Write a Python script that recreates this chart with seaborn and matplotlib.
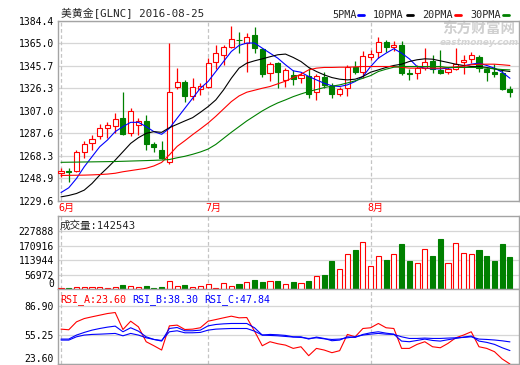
import numpy as np
import matplotlib
matplotlib.use('Agg')
import matplotlib.pyplot as plt
from matplotlib.lines import Line2D
from matplotlib.transforms import blended_transform_factory
import seaborn as sns

# daily candles, 美黄金 GLNC, June - 2016-08-25
opens = [1253.0, 1255.3, 1255.0, 1271.7, 1278.9, 1284.9, 1291.8, 1294.1, 1300.5, 1288.1,
         1294.7, 1298.2, 1278.6, 1273.1, 1262.5, 1327.2, 1331.5, 1319.7, 1325.8, 1327.8,
         1349.3, 1354.5, 1361.7, 1368.0, 1365.1, 1372.3, 1359.9, 1339.3, 1347.9, 1333.5,
         1337.8, 1334.9, 1337.2, 1322.9, 1336.4, 1328.4, 1321.7, 1326.3, 1344.2, 1340.1,
         1353.6, 1357.4, 1366.0, 1361.4, 1363.7, 1339.3, 1339.3, 1343.6, 1349.9, 1342.1,
         1340.1, 1342.7, 1348.5, 1351.1, 1353.1, 1342.7, 1340.1, 1339.3, 1325.8]
highs = [1257.9, 1257.3, 1273.1, 1280.9, 1286.1, 1295.9, 1297.6, 1304.8, 1322.9, 1309.1,
         1300.5, 1303.3, 1280.3, 1280.9, 1365.1, 1343.6, 1333.5, 1335.0, 1330.6, 1352.2,
         1363.1, 1363.7, 1379.5, 1374.6, 1373.8, 1378.9, 1360.8, 1349.3, 1349.3, 1343.6,
         1342.1, 1340.1, 1343.6, 1338.7, 1340.7, 1330.6, 1327.8, 1346.5, 1349.9, 1358.5,
         1359.4, 1370.3, 1368.0, 1367.2, 1367.2, 1343.0, 1346.5, 1360.8, 1355.1, 1359.4,
         1345.0, 1360.8, 1355.1, 1357.9, 1354.5, 1343.6, 1347.0, 1342.1, 1328.6]
lows = [1250.1, 1245.8, 1254.5, 1266.5, 1273.1, 1282.6, 1283.8, 1287.5, 1286.1, 1285.5,
        1286.1, 1273.1, 1271.1, 1265.4, 1260.8, 1325.8, 1314.3, 1316.3, 1320.6, 1326.9,
        1343.0, 1346.5, 1360.8, 1356.5, 1340.7, 1356.5, 1336.4, 1332.7, 1326.3, 1327.8,
        1329.2, 1330.6, 1318.3, 1316.3, 1326.9, 1318.3, 1319.7, 1319.7, 1338.4, 1334.9,
        1350.2, 1352.2, 1357.4, 1358.5, 1337.8, 1333.5, 1334.1, 1342.1, 1339.3, 1338.4,
        1338.4, 1342.1, 1338.4, 1347.9, 1340.1, 1332.9, 1336.4, 1324.9, 1319.1]
closes = [1255.3, 1253.9, 1271.1, 1278.0, 1282.3, 1292.4, 1294.7, 1299.6, 1287.2, 1307.1,
          1298.2, 1278.0, 1276.0, 1266.5, 1322.9, 1331.5, 1320.0, 1327.2, 1328.4, 1347.9,
          1356.5, 1361.7, 1368.9, 1367.4, 1370.3, 1360.8, 1338.7, 1347.0, 1340.7, 1342.1,
          1334.4, 1337.8, 1321.4, 1337.0, 1329.2, 1321.4, 1325.8, 1344.2, 1340.1, 1354.2,
          1355.9, 1366.0, 1361.4, 1363.7, 1339.3, 1338.4, 1343.6, 1348.5, 1343.0, 1339.3,
          1342.7, 1347.0, 1350.8, 1354.5, 1343.6, 1340.7, 1338.4, 1325.5, 1323.5]
volume = [6000, 5000, 8000, 8000, 8000, 8000, 5000, 8000, 18000, 12000,
          9000, 13000, 5000, 9000, 33000, 14000, 17000, 10000, 12000, 21000,
          5000, 24000, 12000, 19000, 30000, 37000, 28000, 32000, 31000, 22000,
          27000, 26000, 31000, 53000, 57000, 110000, 78000, 139000, 155000, 185000,
          93000, 131000, 114000, 137000, 178000, 110000, 101000, 158000, 129000, 197000,
          101000, 180000, 143000, 139000, 155000, 129000, 110000, 178000, 125000]

ma5 = [1236.6, 1240.7, 1248.7, 1258.8, 1267.4, 1276.0, 1281.8, 1289.0, 1293.3, 1297.0,
       1297.0, 1293.3, 1289.0, 1286.7, 1291.8, 1300.5, 1309.1, 1317.7, 1326.3, 1332.1,
       1340.7, 1349.3, 1357.9, 1363.1, 1365.2, 1365.2, 1360.8, 1356.5, 1352.2, 1346.5,
       1341.3, 1340.1, 1336.4, 1333.5, 1330.6, 1328.4, 1327.8, 1329.2, 1332.1, 1336.4,
       1345.0, 1352.2, 1356.5, 1360.3, 1356.5, 1351.6, 1345.0, 1343.6, 1343.0, 1343.0,
       1343.6, 1344.4, 1345.6, 1347.0, 1347.9, 1345.9, 1343.6, 1340.1, 1334.9]
ma10 = [1232.9, 1234.1, 1235.8, 1238.7, 1244.4, 1251.6, 1257.9, 1264.5, 1271.7, 1278.9,
        1283.8, 1287.5, 1289.0, 1288.4, 1292.4, 1295.3, 1298.2, 1301.0, 1305.6, 1310.5,
        1316.3, 1324.9, 1334.9, 1343.6, 1347.9, 1349.9, 1351.6, 1353.4, 1355.1, 1355.7,
        1352.8, 1349.3, 1344.2, 1340.7, 1337.8, 1335.5, 1334.1, 1333.5, 1334.1, 1336.4,
        1340.1, 1342.1, 1344.2, 1345.9, 1347.0, 1349.3, 1350.8, 1351.6, 1351.3, 1349.9,
        1348.5, 1347.0, 1345.9, 1345.0, 1345.0, 1344.2, 1343.0, 1341.6, 1340.7]
ma20 = [1251.3, 1251.4, 1251.5, 1251.6, 1251.8, 1252.1, 1252.5, 1253.2, 1254.5, 1255.5,
        1256.5, 1257.5, 1259.5, 1262.5, 1269.0, 1276.3, 1281.2, 1286.4, 1291.3, 1296.4,
        1302.2, 1308.5, 1314.8, 1319.7, 1322.9, 1324.6, 1326.3, 1327.8, 1330.1, 1332.4,
        1335.5, 1338.4, 1342.1, 1343.6, 1344.2, 1344.2, 1344.4, 1344.4, 1344.7, 1345.0,
        1345.0, 1345.0, 1345.0, 1345.0, 1344.3, 1343.6, 1343.6, 1343.6, 1343.6, 1343.6,
        1344.2, 1344.7, 1345.3, 1346.5, 1347.0, 1347.0, 1347.0, 1346.5, 1345.9]
ma30 = [1262.6, 1262.7, 1262.8, 1262.9, 1263.0, 1263.1, 1263.2, 1263.3, 1263.5, 1263.7,
        1263.9, 1264.1, 1264.3, 1264.6, 1265.0, 1266.5, 1267.8, 1269.5, 1271.5, 1274.0,
        1278.0, 1283.2, 1288.4, 1293.3, 1298.2, 1302.5, 1306.8, 1310.5, 1313.7, 1316.3,
        1319.1, 1321.4, 1323.5, 1325.2, 1326.9, 1328.1, 1329.2, 1330.9, 1332.7, 1334.9,
        1337.2, 1340.7, 1342.7, 1344.4, 1345.0, 1345.0, 1345.0, 1345.0, 1345.0, 1345.0,
        1344.2, 1344.2, 1344.2, 1344.2, 1344.2, 1343.6, 1343.0, 1342.4, 1342.1]

rsi_a = [61.8, 61.1, 69.8, 73.4, 75.3, 77.1, 78.9, 80.0, 61.4, 70.5,
         64.3, 48.0, 43.6, 38.9, 65.4, 66.2, 61.4, 61.8, 63.3, 70.5,
         72.3, 74.2, 76.0, 74.2, 74.5, 59.6, 43.6, 48.0, 45.8, 44.3,
         40.7, 42.5, 32.7, 40.7, 38.9, 36.0, 38.2, 56.0, 53.4, 62.5,
         63.3, 68.0, 63.3, 62.5, 40.7, 40.7, 45.1, 48.0, 42.5, 41.4,
         46.2, 52.3, 55.3, 58.9, 42.5, 40.7, 37.1, 29.1, 23.60]
rsi_b = [50.9, 50.9, 55.3, 58.2, 60.7, 62.5, 64.0, 65.1, 58.9, 63.3,
         59.6, 53.4, 50.5, 48.7, 62.5, 63.6, 60.0, 60.0, 60.7, 65.4,
         66.9, 67.6, 68.0, 68.0, 68.0, 63.3, 55.3, 56.0, 55.6, 54.9,
         53.4, 53.4, 50.9, 53.1, 51.6, 49.1, 49.8, 53.4, 52.7, 56.0,
         57.8, 58.9, 57.4, 56.3, 48.7, 48.0, 49.4, 50.9, 49.4, 48.7,
         50.2, 51.6, 53.1, 54.2, 48.7, 47.3, 45.1, 41.4, 38.30]
rsi_c = [49.8, 49.8, 53.4, 55.3, 56.0, 56.3, 56.7, 57.1, 54.5, 57.1,
         55.3, 52.3, 50.5, 49.4, 58.9, 60.0, 57.8, 57.8, 58.2, 60.7,
         61.8, 62.2, 62.5, 62.5, 62.5, 59.6, 55.3, 54.9, 54.5, 53.8,
         53.1, 52.7, 51.6, 52.3, 51.2, 50.5, 50.9, 52.3, 53.4, 55.3,
         56.3, 57.1, 56.3, 56.0, 53.4, 51.6, 51.6, 52.0, 51.6, 51.6,
         52.0, 52.3, 52.7, 53.4, 50.9, 50.5, 49.9, 49.0, 47.84]

price_ticks = [1229.6, 1248.9, 1268.3, 1287.6, 1307.0, 1326.3, 1345.7, 1365.0, 1384.4]
vol_ticks = [0, 56972, 113944, 170916, 227888]
rsi_ticks = [23.60, 55.25, 86.90]
month_labels = ['6月', '7月', '8月']
month_starts = [0, 19, 40]
ma_labels = ['5PMA', '10PMA', '20PMA', '30PMA']

RED, GREEN, BLUE = '#ff0000', '#008000', '#0000ff'
ma_colors = [BLUE, 'black', RED, GREEN]
GRID = '#d6d6d6'
FRAME = '#a4a4a4'

sns.set_theme(style='white')
plt.rcParams['font.family'] = ['DejaVu Sans Mono', 'Noto Sans CJK SC']
plt.rcParams['axes.unicode_minus'] = False

W, H = 520, 365
fig = plt.figure(figsize=(W / 100, H / 100), dpi=100)
fig.patch.set_facecolor('white')


def box(l, t, r, b):
    # panel from pixel edges
    return fig.add_axes([l / W, 1 - b / H, (r - l) / W, (b - t) / H])


ax = box(58, 20.7, 519, 200.7)
axv = box(58, 216, 519, 289.3)
axr = box(58, 289.3, 519, 364)

idx = np.arange(len(opens))
o = np.array(opens)
c = np.array(closes)
up = c >= o
edge = np.where(up, RED, GREEN)
face = np.where(up, 'white', GREEN)

for a in (ax, axv, axr):
    a.set_xlim(-0.39, 59.17)
    a.set_facecolor('white')
    for s in a.spines.values():
        s.set_color(FRAME)
        s.set_linewidth(1)
    a.set_xticks([])
    a.tick_params(axis='y', length=0, pad=3, labelsize=7, colors='black')
    a.grid(axis='y', color=GRID, lw=0.9)
    for m in month_starts:
        a.axvline(m, color='#c4c4c4', lw=0.9, ls=(0, (3, 2)), zorder=1)

# price panel
ax.vlines(idx, lows, highs, colors=edge, lw=0.9, zorder=3)
ax.bar(idx, np.maximum(np.abs(c - o), 0.4), bottom=np.minimum(o, c), width=0.66,
       color=face, edgecolor=edge, lw=0.8, zorder=4)
for vals, col in zip([ma5, ma10, ma20, ma30], ma_colors):
    sns.lineplot(x=idx, y=vals, ax=ax, color=col, lw=0.8, zorder=5)
ax.set_ylim(1229.6, 1384.4)
ax.set_yticks(price_ticks)
ax.set_yticklabels([f'{v:.1f}' for v in price_ticks])
ax.set_ylabel('')

trans = blended_transform_factory(ax.transData, ax.transAxes)
for m, lab in zip(month_starts, month_labels):
    ax.text(m - 0.4, -0.04, lab, transform=trans, color=RED, fontsize=7.2,
            ha='left', va='center', clip_on=False)

# watermark
ax.text(479 / W, 1 - 29 / H, '东方财富网', transform=fig.transFigure, color='#cfcfcf',
        fontsize=10.5, fontweight='bold', ha='center', va='center', zorder=0.6,
        family=['Noto Sans CJK SC'])
ax.text(479 / W, 1 - 42.5 / H, 'eastmoney.com', transform=fig.transFigure, color='#d4d4d4',
        fontsize=6.5, fontweight='bold', style='italic', ha='center', va='center', zorder=0.6,
        family=['DejaVu Sans'])

# volume panel
axv.bar(idx, volume, width=0.66, color=face, edgecolor=edge, lw=0.8, zorder=3)
axv.set_ylim(0, 286500)
axv.set_yticks(vol_ticks)
axv.set_yticklabels([str(v) for v in vol_ticks])
axv.get_yticklabels()[0].set_va('bottom')

# RSI panel
for vals, col in zip([rsi_a, rsi_b, rsi_c], [RED, BLUE, BLUE]):
    sns.lineplot(x=idx, y=vals, ax=axr, color=col, lw=0.8, zorder=4)
axr.set_ylim(23.6, 105.45)
axr.set_yticks(rsi_ticks)
axr.set_yticklabels([f'{v:.2f}' for v in rsi_ticks])
axr.get_yticklabels()[0].set_va('bottom')
axr.set_ylabel('')

# header texts
fig.text(61 / W, 1 - 14 / H, '美黄金[GLNC] 2016-08-25', fontsize=7.8, ha='left', va='center')
for lab, col, tx, lx in zip(ma_labels, ma_colors, [332, 373, 422, 470], [358, 407, 455, 503]):
    fig.text(tx / W, 1 - 14.5 / H, lab, fontsize=7.3, ha='left', va='center')
    fig.add_artist(Line2D([lx / W, (lx + 6) / W], [1 - 14.5 / H] * 2, color=col, lw=2,
                          transform=fig.transFigure))

fig.text(60 / W, 1 - 225.5 / H, f'成交量:{142543}', fontsize=7.6, ha='left', va='center')
for lab, col, tx in zip([f'RSI_A:{rsi_a[-1]:.2f}', f'RSI_B:{rsi_b[-1]:.2f}', f'RSI_C:{rsi_c[-1]:.2f}'],
                        [RED, BLUE, BLUE], [60, 132, 204]):
    fig.text(tx / W, 1 - 299.5 / H, lab, fontsize=7.2, color=col, ha='left', va='center')

fig.savefig('out.png', dpi=100, facecolor='white')
